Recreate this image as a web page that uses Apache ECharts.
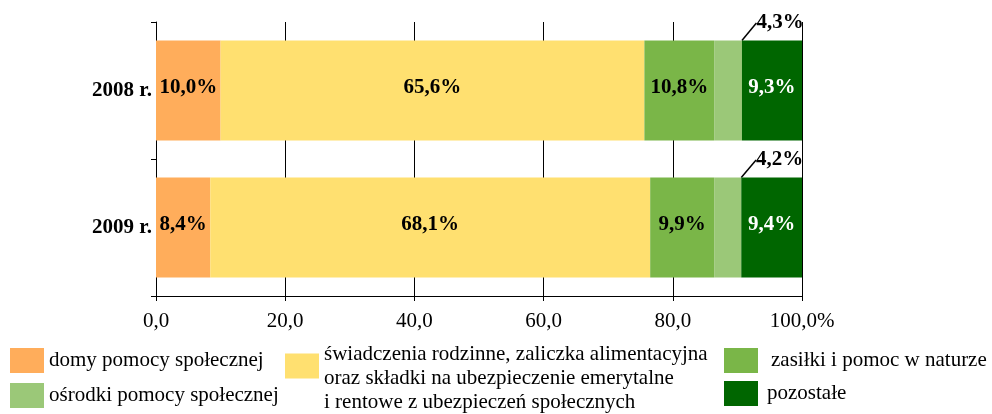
<!DOCTYPE html>
<html>
<head>
<meta charset="utf-8">
<script src="https://cdn.jsdelivr.net/npm/echarts@6/dist/echarts.min.js"></script>
<style>
  html, body { margin: 0; padding: 0; background: #fff; }
  #chart { width: 992px; height: 414px; }
</style>
</head>
<body>
<div id="chart"></div>
<script>
// dane
const years = ['2008 r.', '2009 r.']
const domy = [10.0, 8.4]
const swiadczenia = [65.6, 68.1]
const zasilki = [10.8, 9.9]
const osrodki = [4.3, 4.2]
const pozostale = [9.3, 9.4]

const names = [
  'domy pomocy społecznej',
  'świadczenia rodzinne',
  'zasiłki i pomoc w naturze',
  'ośrodki pomocy społecznej',
  'pozostałe'
]
const colors = ['#FFAD5B', '#FFE070', '#7AB648', '#9BC878', '#006600']

const FONT = "'Liberation Serif', 'Times New Roman', serif"
const pct = v => v.toFixed(1).replace('.', ',') + '%'

const chart = echarts.init(document.getElementById('chart'))

const labelBase = {
  show: true,
  position: 'inside',
  fontFamily: FONT,
  fontWeight: 'bold',
  fontSize: 21,
  color: '#000',
  offset: [0, -3],
  formatter: p => pct(p.value)
}

function bar(name, data, color, extra) {
  return Object.assign({
    name,
    type: 'bar',
    stack: 'all',
    data,
    barWidth: 100,
    itemStyle: { color },
    label: labelBase,
    emphasis: { disabled: true }
  }, extra || {})
}

function legendAt(name, left, top, extra) {
  return Object.assign({
    data: [name],
    left, top,
    orient: 'vertical',
    padding: 0,
    icon: 'rect',
    itemWidth: 34,
    itemHeight: 25,
    selectedMode: false,
    textStyle: { fontFamily: FONT, fontSize: 21, color: '#000' }
  }, extra || {})
}

chart.setOption({
  backgroundColor: '#fff',
  animation: false,
  grid: { left: 156, right: 190, top: 22, bottom: 118 },
  xAxis: {
    type: 'value',
    min: 0,
    max: 100,
    interval: 20,
    axisLine: { show: true, lineStyle: { color: '#000' } },
    axisTick: { show: true, length: 5, lineStyle: { color: '#000' } },
    splitLine: { show: true, lineStyle: { color: '#000', width: 1 } },
    axisLabel: {
      fontFamily: FONT, fontSize: 21, color: '#000', margin: 15,
      formatter: v => v.toFixed(1).replace('.', ',') + (v === 100 ? '%' : '')
    }
  },
  yAxis: {
    type: 'category',
    data: years,
    inverse: true,
    axisLine: { show: true, lineStyle: { color: '#000' } },
    axisTick: { show: true, length: 5, lineStyle: { color: '#000' } },
    axisLabel: { fontFamily: FONT, fontSize: 21, fontWeight: 'bold', color: '#000', margin: 4 }
  },
  legend: [
    legendAt(names[0], 10, 348),
    legendAt(names[1], 285, 318, {
      formatter: () => '\nświadczenia rodzinne, zaliczka alimentacyjna\noraz składki na ubezpieczenie emerytalne\ni rentowe z ubezpieczeń społecznych',
      textStyle: { fontFamily: FONT, fontSize: 21, color: '#000', lineHeight: 24 }
    }),
    legendAt(names[2], 724, 348, {
      textStyle: { fontFamily: FONT, fontSize: 21, color: '#000', padding: [0, 0, 0, 8] }
    }),
    legendAt(names[3], 10, 383),
    legendAt(names[4], 724, 381, {
      textStyle: { fontFamily: FONT, fontSize: 21, color: '#000', padding: [0, 0, 0, 4] }
    })
  ],
  series: [
    bar(names[0], domy, colors[0]),
    bar(names[1], swiadczenia, colors[1]),
    bar(names[2], zasilki, colors[2]),
    bar(names[3], osrodki, colors[3], {
      label: Object.assign({}, labelBase, { position: 'top', distance: 4, offset: [0, 0] }),
      labelLayout: { dx: 52, dy: -3 },
      labelLine: { show: true, lineStyle: { color: '#000', width: 1.5 } }
    }),
    bar(names[4], pozostale, colors[4], {
      label: Object.assign({}, labelBase, { color: '#fff' })
    })
  ]
})
</script>
</body>
</html>
